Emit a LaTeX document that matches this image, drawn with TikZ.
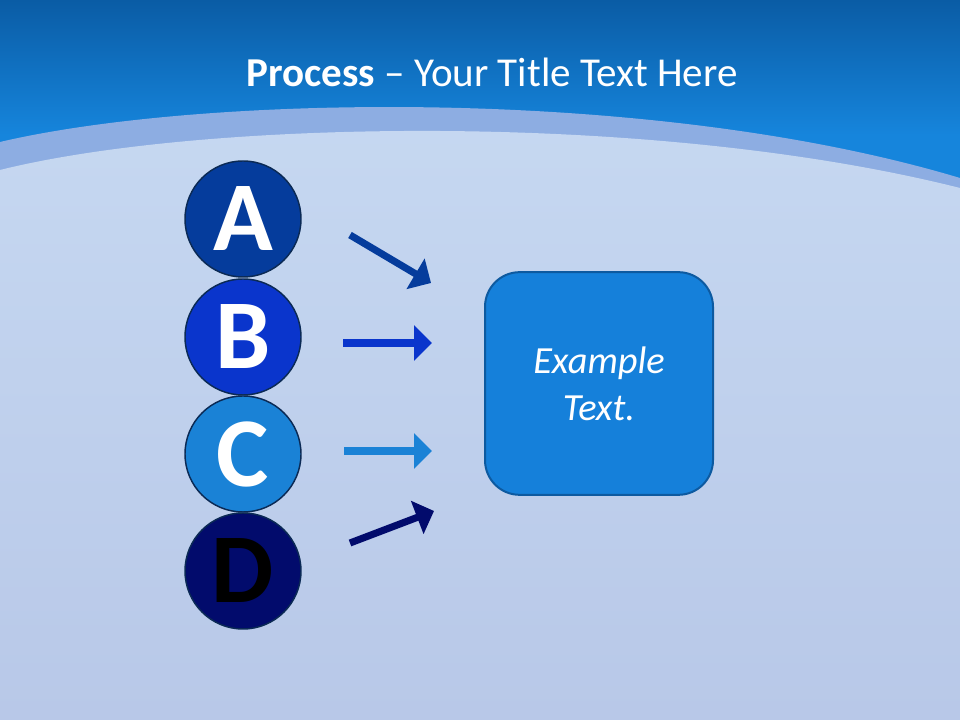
\documentclass[tikz,border=0pt]{standalone}
\usepackage{fontspec}
\setmainfont{Carlito}
\usetikzlibrary{arrows.meta}
\definecolor{hdrtop}{HTML}{0A5CA5}
\definecolor{hdrbot}{HTML}{1685DC}
\definecolor{band}{HTML}{8DADE2}
\definecolor{paletop}{HTML}{C6D8F1}
\definecolor{palebot}{HTML}{B8C8E8}
\definecolor{cA}{HTML}{053C9C}
\definecolor{cB}{HTML}{0A35CC}
\definecolor{cC}{HTML}{1A82D6}
\definecolor{cD}{HTML}{020B6C}
\definecolor{ring}{HTML}{0B2A55}
\definecolor{boxfill}{HTML}{1580DA}
\definecolor{boxline}{HTML}{0D5AA0}
\tikzset{
  circ/.style={circle, draw=ring, line width=1.1pt, minimum size=87pt, inner sep=0pt,
    font=\fontsize{74}{74}\selectfont\bfseries},
  flow/.style={line width=5.3pt, -{Triangle[length=13.5pt,width=26pt]}},
  textbox/.style={draw=boxline, line width=1.5pt, fill=boxfill, rounded corners=26pt,
    minimum width=171pt, minimum height=167pt, align=center, text=white,
    font=\fontsize{28.8}{35}\selectfont\itshape},
  titletext/.style={text=white, font=\fontsize{30.8}{36}\selectfont, anchor=base}
}
\begin{document}
\begin{tikzpicture}[x=0.75pt,y=0.75pt]
\useasboundingbox (0,0) rectangle (960,720);
% header
\fill[hdrbot] (0,720) rectangle (960,400);
\shade[top color=hdrtop, bottom color=hdrbot] (0,720) rectangle (960,585);
% band
\fill[band] (0,578) .. controls (200,625) and (650,635) .. (960,542) -- (960,0) -- (0,0) -- cycle;
% pale area
\shade[top color=paletop, bottom color=palebot] (0,550) .. controls (200,600) and (650,610) .. (960,532) -- (960,0) -- (0,0) -- cycle;
% title
\node[titletext] (title) at (492,633) {\textbf{Process} – Your Title Text Here};
% circles
\node[circ, fill=cA, text=white] (A) at (243,501) {A};
\node[circ, fill=cB, text=white] (B) at (243,383) {B};
\node[circ, fill=cC, text=white] (C) at (243,266) {C};
\node[circ, fill=cD, text=black] (D) at (243,149) {D};
% box
\node[textbox] (box) at (599,336.5) {Example\\Text.};
% arrow ends
\coordinate (a1) at (350,485); \coordinate (a2) at (431,437);
\coordinate (b1) at (343,377); \coordinate (b2) at (432,377);
\coordinate (c1) at (344,269); \coordinate (c2) at (432,269);
\coordinate (d1) at (350,177); \coordinate (d2) at (434,209);
\draw[flow, draw=cA, fill=cA] (a1) -- (a2);
\draw[flow, draw=cB, fill=cB] (b1) -- (b2);
\draw[flow, draw=cC, fill=cC] (c1) -- (c2);
\draw[flow, draw=cD, fill=cD] (d1) -- (d2);
\end{tikzpicture}
\end{document}
